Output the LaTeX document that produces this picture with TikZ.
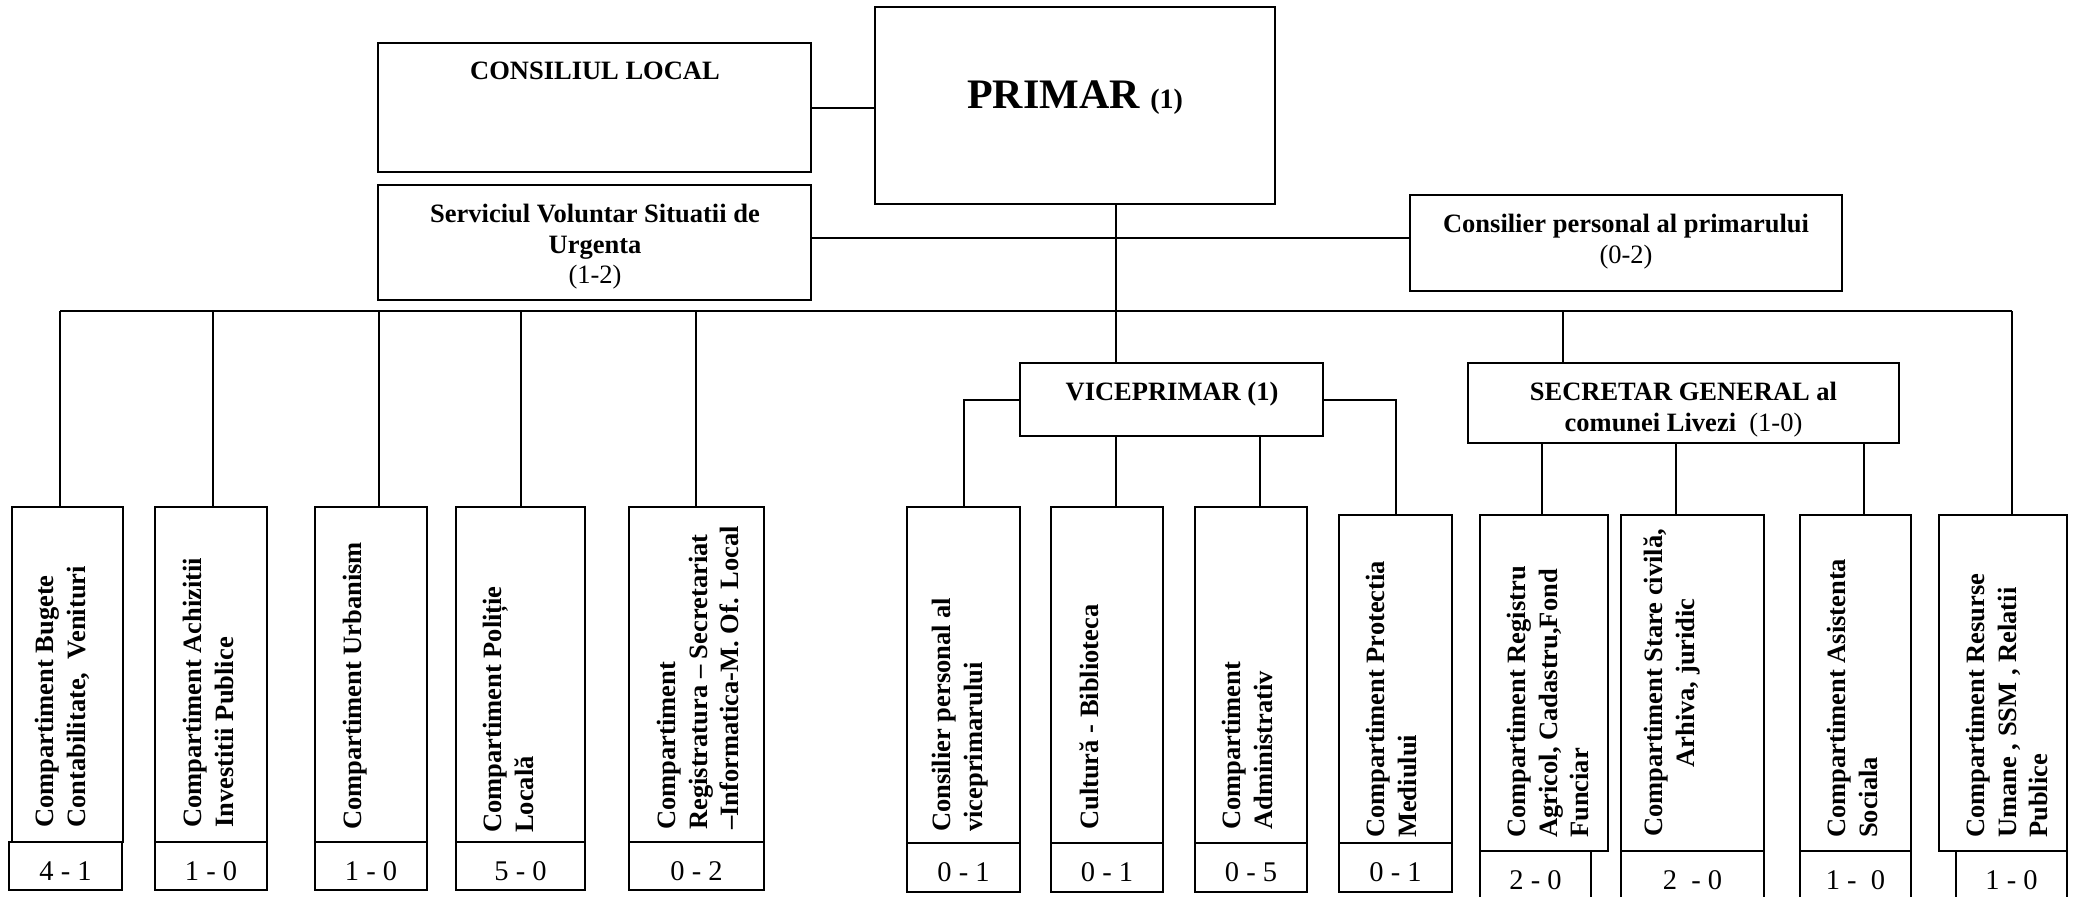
\documentclass[tikz,border=0pt]{standalone}
\usepackage{fontspec}
\setmainfont{Liberation Serif}
\usetikzlibrary{fit}
\tikzset{
  box/.style={draw, line width=1.8bp, inner sep=0pt, outer sep=0pt},
  conn/.style={line width=2bp},
  busline/.style={line width=2.6bp},
  vtxt/.style={rotate=90, anchor=north west, inner sep=0pt, align=left,
    font=\fontsize{26.5bp}{31.5bp}\selectfont\bfseries},
  vtxtc/.style={vtxt, align=center},
  htxt/.style={inner sep=0pt, anchor=north, align=center,
    font=\fontsize{26.5bp}{30.5bp}\selectfont\bfseries},
  cnt/.style={inner sep=0pt, anchor=base, font=\fontsize{28.5bp}{30bp}\selectfont},
}
\newcommand\rbox[5]{\node[box, fit={(#2,#3) (#4,#5)}] (#1) {};}
\begin{document}
\begin{tikzpicture}[x=1bp, y=-1bp]
\useasboundingbox[fill=white] (0,0) rectangle (2075,897);
\clip (0,0) rectangle (2075,897);

% ---------- top boxes ----------
\rbox{cl}{378}{43}{811}{172}
\node[htxt, anchor=north] (cltxt) at (595,62) {CONSILIUL LOCAL};
\rbox{primar}{875}{7}{1275}{204}
\node[inner sep=0pt, anchor=base] (primtxt) at (1075,108)
  {\fontsize{42bp}{46bp}\selectfont\bfseries PRIMAR \fontsize{28bp}{30bp}\selectfont(1)};
\rbox{svsu}{378}{185}{811}{300}
\node[htxt] (svsutxt) at (595,204) {Serviciul Voluntar Situatii de\\Urgenta\\\mdseries(1-2)};
\rbox{cons}{1410}{195}{1842}{291}
\node[htxt] (constxt) at (1626,214) {Consilier personal al primarului\\\mdseries(0-2)};
\rbox{vice}{1020}{363}{1323}{436}
\node[htxt] (vicetxt) at (1172,382) {VICEPRIMAR (1)};
\rbox{sec}{1468}{363}{1899}{443}
\node[htxt] (sectxt) at (1683.5,382) {SECRETAR GENERAL al\\comunei Livezi\ \ \mdseries(1-0)};

% ---------- bottom boxes ----------
\rbox{b1}{12}{507}{123}{842}   \rbox{c1}{9}{842}{122}{890}
\rbox{b2}{155}{507}{267}{842}  \rbox{c2}{155}{842}{267}{890}
\rbox{b3}{315}{507}{427}{842}  \rbox{c3}{315}{842}{427}{890}
\rbox{b4}{456}{507}{585}{842}  \rbox{c4}{456}{842}{585}{890}
\rbox{b5}{629}{507}{764}{842}  \rbox{c5}{629}{842}{764}{890}
\rbox{b6}{907}{507}{1020}{843}  \rbox{c6}{907}{843}{1020}{892}
\rbox{b7}{1051}{507}{1163}{843} \rbox{c7}{1051}{843}{1163}{892}
\rbox{b8}{1195}{507}{1307}{843} \rbox{c8}{1195}{843}{1307}{892}
\rbox{b9}{1339}{515}{1452}{843} \rbox{c9}{1339}{843}{1452}{892}
\rbox{b10}{1480}{515}{1608}{851} \rbox{c10}{1480}{851}{1591}{910}
\rbox{b11}{1621}{515}{1764}{851} \rbox{c11}{1621}{851}{1764}{910}
\rbox{b12}{1800}{515}{1911}{851} \rbox{c12}{1800}{851}{1911}{910}
\rbox{b13}{1939}{515}{2067}{851} \rbox{c13}{1956}{851}{2067}{910}

% vertical labels
\node[vtxt] (t1) at (35,828) {Compartiment Bugete\\Contabilitate,\ \ Venituri};
\node[vtxt] (t2) at (183,828) {Compartiment Achizitii\\Investitii Publice};
\node[vtxt] (t3) at (343,830) {Compartiment Urbanism};
\node[vtxt] (t4) at (483,833) {Compartiment Poliție\\Locală};
\node[vtxt] (t5) at (657,830) {Compartiment\\Registratura – Secretariat\\–Informatica-M. Of. Local};
\node[vtxt] (t6) at (932,832) {Consilier personal al\\viceprimarului};
\node[vtxt] (t7) at (1080,830) {Cultură - Biblioteca};
\node[vtxt] (t8) at (1222,830) {Compartiment\\Administrativ};
\node[vtxt] (t9) at (1366,838) {Compartiment Protectia\\Mediului};
\node[vtxt] (t10) at (1507,838) {Compartiment Registru\\Agricol, Cadastru,Fond\\Funciar};
\node[vtxtc] (t11) at (1644,837) {Compartiment Stare civilă,\\Arhiva, juridic};
\node[vtxt] (t12) at (1827,838) {Compartiment Asistenta\\Sociala};
\node[vtxt] (t13) at (1966,838) {Compartiment Resurse\\Umane , SSM , Relatii\\Publice};

% counts
\node[cnt] (n1) at (c1.center |- 0,880) {4 - 1};
\node[cnt] (n2) at (c2.center |- 0,880) {1 - 0};
\node[cnt] (n3) at (c3.center |- 0,880) {1 - 0};
\node[cnt] (n4) at (c4.center |- 0,880) {5 - 0};
\node[cnt] (n5) at (c5.center |- 0,880) {0 - 2};
\node[cnt] (n6) at (c6.center |- 0,881) {0 - 1};
\node[cnt] (n7) at (c7.center |- 0,881) {0 - 1};
\node[cnt] (n8) at (c8.center |- 0,881) {0 - 5};
\node[cnt] (n9) at (c9.center |- 0,881) {0 - 1};
\node[cnt] (n10) at (c10.center |- 0,889) {2 - 0};
\node[cnt] (n11) at (c11.center |- 0,889) {2\ \ - 0};
\node[cnt] (n12) at (c12.center |- 0,889) {1 -\ \ 0};
\node[cnt] (n13) at (c13.center |- 0,889) {1 - 0};

% ---------- connectors ----------
\draw[conn] (cl.east) -- (cl.east -| primar.west);
\coordinate (hl) at (0,238);
\draw[conn] (svsu.east |- hl) -- (cons.west |- hl);

\coordinate (busL) at (60,311);
\coordinate (busR) at (2012,311);
\coordinate (d2) at (213,311);
\coordinate (d3) at (379,311);
\coordinate (d4) at (521,311);
\coordinate (d5) at (696,311);
\coordinate (pv) at (1116,311);
\coordinate (dS) at (1563,311);
\draw[busline] (busL) -- (busR);
\draw[conn] (busL) -- (busL |- b1.north);
\draw[conn] (d2) -- (d2 |- b2.north);
\draw[conn] (d3) -- (d3 |- b3.north);
\draw[conn] (d4) -- (d4 |- b4.north);
\draw[conn] (d5) -- (d5 |- b5.north);
\draw[conn] (busR) -- (busR |- b13.north);
\draw[conn] (primar.south -| pv) -- (pv |- vice.north);
\draw[conn] (dS) -- (dS |- sec.north);

% viceprimar branches
\coordinate (v8) at (1260,436);
\draw[conn] (vice.west) -| (b6.north);
\draw[conn] (vice.east) -| (b9.north);
\draw[conn] (vice.south -| pv) -- (pv |- b7.north);
\draw[conn] (v8) -- (v8 |- b8.north);

% secretar branches
\coordinate (s10) at (1542,443);
\coordinate (s11) at (1676,443);
\coordinate (s12) at (1864,443);
\draw[conn] (s10) -- (s10 |- b10.north);
\draw[conn] (s11) -- (s11 |- b11.north);
\draw[conn] (s12) -- (s12 |- b12.north);
\end{tikzpicture}
\end{document}
